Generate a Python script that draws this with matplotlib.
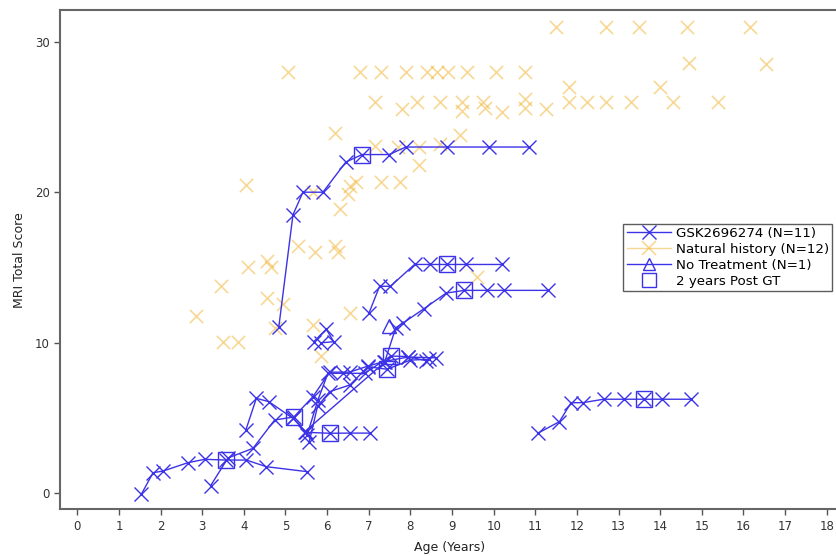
#!/usr/bin/env python3
"""
MRI total score vs age: treated patients (lines) against natural history.
"""

import matplotlib
matplotlib.use('Agg')
import matplotlib.pyplot as plt
from matplotlib.lines import Line2D

# Treated patients, one list pair per patient (age, MRI score)
gt_ages = [
    [4.84, 5.18, 5.42, 5.90, 6.45, 6.84, 7.49, 7.89, 8.88, 9.90, 10.84],
    [7.01, 7.26, 7.52, 8.10, 8.47, 8.89, 9.34, 10.2],
    [5.46, 7.38, 7.65, 7.82, 8.32, 8.86, 9.30, 9.84, 10.24, 11.3],
    [1.54, 1.82, 2.06, 2.65, 3.06, 3.58, 4.06, 4.54, 5.52],
    [3.20, 3.62, 4.22, 4.74, 5.20, 5.66, 6.06, 6.54, 6.98, 7.36, 7.94, 8.62],
    [4.05, 4.30, 4.60, 5.18, 5.50, 6.06, 6.54, 7.04],
    [5.52, 5.78, 6.02, 6.38, 6.90, 7.53, 7.94, 8.38],
    [5.57, 5.77, 6.06, 6.55, 6.98, 7.44, 8.00, 8.45],
    [5.68, 5.98, 6.16, 5.86],
    [11.06, 11.58, 11.86, 12.14, 12.64, 13.12, 13.62, 14.05, 14.74],
]
gt_scores = [
    [11.05, 18.5, 20.0, 20.0, 22.0, 22.5, 22.5, 23.0, 23.0, 23.0, 23.0],
    [12.0, 13.75, 13.75, 15.2, 15.2, 15.2, 15.2, 15.2],
    [4.09, 8.7, 11.0, 11.3, 12.25, 13.3, 13.48, 13.48, 13.48, 13.48],
    [-0.05, 1.37, 1.48, 2.03, 2.26, 2.21, 2.21, 1.77, 1.44],
    [0.5, 2.35, 2.99, 4.87, 5.07, 6.42, 8.05, 8.05, 8.45, 8.75, 9.05, 9.0],
    [4.22, 6.31, 6.09, 4.98, 4.05, 3.99, 4.0, 4.0],
    [3.87, 6.2, 7.97, 7.97, 7.97, 9.12, 9.08, 8.81],
    [3.43, 5.77, 6.75, 7.2, 8.41, 8.24, 8.85, 8.9],
    [10.08, 10.9, 10.07, 10.0],
    [3.99, 4.76, 6.02, 6.02, 6.25, 6.25, 6.25, 6.25, 6.25],
]

# 2 years post gene therapy visits
post2_age = [3.58, 5.20, 6.06, 6.84, 7.53, 7.44, 8.89, 9.30, 13.62]
post2_score = [2.21, 5.07, 3.99, 22.5, 9.12, 8.24, 15.2, 13.48, 6.25]

# untreated sibling
notx_age = [7.49]
notx_score = [11.12]

# natural history cohort
nh_age = [11.5, 12.7, 13.5, 14.65, 16.15,
          14.7, 16.55,
          5.05, 6.8, 7.3, 7.9, 8.4, 8.65, 8.9, 9.35, 10.05, 10.75,
          11.8, 14.0,
          7.15, 8.15, 8.7, 9.25, 9.75, 10.75, 11.8, 12.25, 12.7, 13.3, 14.3, 15.4,
          7.8, 9.25, 9.8, 10.2, 10.75, 11.25,
          6.2, 9.2, 7.15, 8.7, 7.7, 8.2, 8.2,
          6.7, 7.3, 7.75, 4.05, 6.55, 6.5, 5.65, 6.3,
          5.3, 6.2, 5.7, 6.25, 4.55, 4.65, 4.1,
          3.45, 4.55, 4.95, 6.55, 2.85, 5.65, 4.75, 3.5, 3.85, 5.85, 9.6]
nh_score = [31.0, 31.0, 31.0, 31.0, 31.0,
            28.55, 28.5,
            28.0, 28.0, 28.0, 28.0, 28.0, 28.0, 28.0, 28.0, 28.0, 28.0,
            27.0, 27.0,
            26.0, 26.0, 26.0, 26.0, 26.0, 26.2, 26.0, 26.0, 26.0, 26.0, 26.0, 26.0,
            25.5, 25.4, 25.6, 25.35, 25.6, 25.5,
            23.9, 23.8, 23.1, 23.2, 23.0, 23.0, 21.8,
            20.7, 20.7, 20.7, 20.5, 20.4, 19.9, 20.0, 18.9,
            16.4, 16.4, 16.0, 16.0, 15.4, 15.0, 15.0,
            13.75, 13.0, 12.6, 12.0, 11.75, 11.2, 11.0, 10.05, 10.05, 9.1, 14.4]

BLUE = '#3c32e6'
ORANGE = '#f2b12a'

fig = plt.figure(figsize=(8.36, 5.56), dpi=100)
ax = fig.add_axes([0.0718, 0.084, 0.932, 0.898])

ax.scatter(nh_age, nh_score, marker='x', s=90, color=ORANGE, alpha=0.5,
           linewidths=1.2, zorder=2)

for xs, ys in zip(gt_ages, gt_scores):
    ax.plot(xs, ys, '-', color=BLUE, lw=1.0, marker='x', ms=10,
            mew=1.0, zorder=3)

ax.plot(notx_age, notx_score, linestyle='none', marker='^', ms=10,
        mfc='none', mec=BLUE, mew=1.0, zorder=4)
ax.plot(post2_age, post2_score, linestyle='none', marker='s', ms=12,
        mfc='none', mec=BLUE, mew=1.0, zorder=4)

ax.set_xlim(-0.415, 18.3)
ax.set_ylim(-1.06, 32.1)
ax.set_xticks(range(0, 19))
ax.set_yticks([0, 10, 20, 30])
ax.tick_params(labelsize=8.5, labelcolor='#333333', color='#555555',
               length=4, width=1, direction='out')
for sp in ax.spines.values():
    sp.set_color('#666666')
    sp.set_linewidth(1.5)

ax.set_xlabel('Age (Years)', fontsize=9, color='#222222', labelpad=6)
ax.set_ylabel('MRI Total Score', fontsize=9, color='#222222', labelpad=6)

handles = [
    Line2D([], [], color=BLUE, lw=1.0, marker='x', ms=10, mew=1.0),
    Line2D([], [], color=ORANGE, lw=1.0, alpha=0.5, marker='x', ms=10, mew=1.2),
    Line2D([], [], color=BLUE, lw=1.0, marker='^', ms=9, mfc='none', mew=1.0),
    Line2D([], [], color=BLUE, linestyle='none', marker='s', ms=10,
           mfc='none', mew=1.0),
]
labels = ['GSK2696274 (N=11)', 'Natural history (N=12)',
          'No Treatment (N=1)', '2 years Post GT']
leg = ax.legend(handles, labels, loc='upper left',
                bbox_to_anchor=(0.723, 0.572), fontsize=9.6, frameon=True,
                fancybox=False, borderpad=0.25, labelspacing=0.22,
                handlelength=3.3, handletextpad=0.4, borderaxespad=0)
leg.get_frame().set_edgecolor('#333333')
leg.get_frame().set_linewidth(1.0)

plt.savefig('out.png', dpi=100)
plt.close()
